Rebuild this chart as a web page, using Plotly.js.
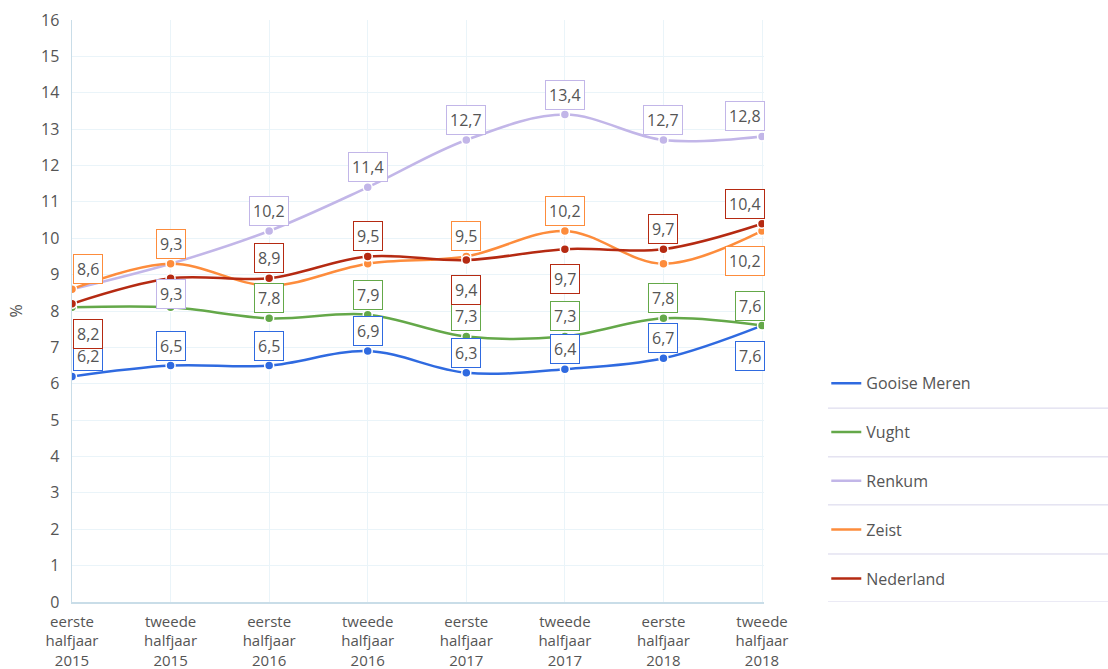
<!DOCTYPE html>
<html>
<head>
<meta charset="utf-8">
<script src="https://cdn.plot.ly/plotly-3.0.1.min.js"></script>
<style>html,body{margin:0;padding:0;background:#fff;}#chart{width:1108px;height:669px;}</style>
</head>
<body>
<div id="chart"></div>
<script>
var categories = ["eerste<br>halfjaar<br>2015","tweede<br>halfjaar<br>2015","eerste<br>halfjaar<br>2016","tweede<br>halfjaar<br>2016","eerste<br>halfjaar<br>2017","tweede<br>halfjaar<br>2017","eerste<br>halfjaar<br>2018","tweede<br>halfjaar<br>2018"];
var seriesNames = ["Gooise Meren","Vught","Renkum","Zeist","Nederland"];
var gooiseMeren = [6.2, 6.5, 6.5, 6.9, 6.3, 6.4, 6.7, 7.6];
var vught       = [8.1, 8.1, 7.8, 7.9, 7.3, 7.3, 7.8, 7.6];
var renkum      = [8.6, 9.3, 10.2, 11.4, 12.7, 13.4, 12.7, 12.8];
var zeist       = [8.6, 9.3, 8.7, 9.3, 9.5, 10.2, 9.3, 10.2];
var nederland   = [8.2, 8.9, 8.9, 9.5, 9.4, 9.7, 9.7, 10.4];
var yTicks = [0,1,2,3,4,5,6,7,8,9,10,11,12,13,14,15,16];

var seriesValues = [gooiseMeren, vught, renkum, zeist, nederland];
var colors = ["#2f6ae0", "#64a849", "#c2b6e8", "#fd8c3c", "#b52a12"];
// label placement: a = above, b = below, '' = hidden
var placement = [
  ["a","a","a","a","a","a","a","b"],
  ["","","a","a","a","a","a","a"],
  ["","b","a","a","a","a","a","a"],
  ["a","a","","","a","a","","b"],
  ["b","","a","a","b","b","a","a"]
];

var xIdx = categories.map(function(_, i){ return i; });
var traces = [];
seriesValues.forEach(function(vals, s){
  traces.push({
    type: "scatter", mode: "lines+markers", name: seriesNames[s],
    x: xIdx, y: vals, showlegend: false,
    line: {color: colors[s], width: 2.5, shape: "spline", smoothing: 1},
    marker: {color: colors[s], size: 9, line: {color: "#fff", width: 1.5}},
    hoverinfo: "none"
  });
});
seriesValues.forEach(function(vals, s){
  traces.push({
    type: "scatter", mode: "lines", name: seriesNames[s],
    x: [null], y: [null], legendgroup: "g"+s, showlegend: true,
    line: {color: colors[s], width: 2.5}, hoverinfo: "none"
  });
});

var annotations = [];
var last = xIdx.length - 1;
seriesValues.forEach(function(vals, s){
  vals.forEach(function(v, i){
    var p = placement[s][i];
    if (!p) return;
    annotations.push({
      x: i, y: v, xref: "x", yref: "y", showarrow: false,
      text: v.toFixed(1).replace(".", ","),
      xanchor: i === 0 ? "left" : (i === last ? "right" : "center"),
      xshift: i === 0 ? 1 : (i === last ? 3 : 0),
      yshift: p === "a" ? 20 : -30,
      font: {family: "Open Sans", size: 16, color: "#555"},
      bgcolor: "#fff", bordercolor: colors[s], borderwidth: 1, borderpad: 3
    });
  });
});

var shapes = [];
[5.33, 3.99, 2.67, 1.32, 0].forEach(function(yv){
  shapes.push({type: "line", xref: "paper", yref: "y", x0: 1.0925, x1: 1.5, y0: yv, y1: yv,
    line: {color: "#d6d4ea", width: 1}});
});

var layout = {
  width: 1108, height: 669,
  margin: {l: 72, r: 344, t: 20, b: 67},
  paper_bgcolor: "#fff", plot_bgcolor: "#fff",
  font: {family: "Open Sans", size: 16, color: "#555"},
  showlegend: true,
  legend: {x: 1.09, xanchor: "left", y: 0.405, yanchor: "top", traceorder: "grouped",
    bgcolor: "rgba(0,0,0,0)",
    tracegroupgap: 25, font: {family: "Open Sans", size: 16, color: "#555"}},
  xaxis: {
    range: [0, 7.02], tickmode: "array", tickvals: xIdx, ticktext: categories,
    showgrid: true, gridcolor: "#eaf4f9", zeroline: false,
    showline: true, linecolor: "#c9dde8", linewidth: 1.5, ticks: "",
    ticklabelstandoff: 5,
    tickfont: {family: "Open Sans", size: 15, color: "#555"}, fixedrange: true
  },
  yaxis: {
    range: [0, 16], tickmode: "array", tickvals: yTicks, ticktext: yTicks.map(String),
    showgrid: true, gridcolor: "#eaf4f9", zeroline: false,
    showline: true, linecolor: "#c9dde8", linewidth: 1.5, ticks: "",
    ticklabelstandoff: 8,
    title: {text: "%", font: {family: "Open Sans", size: 16, color: "#555"}, standoff: 14},
    tickfont: {family: "Open Sans", size: 16, color: "#555"}, fixedrange: true
  },
  annotations: annotations,
  shapes: shapes
};

Plotly.newPlot("chart", traces, layout, {displayModeBar: false, staticPlot: true});
</script>
</body>
</html>
